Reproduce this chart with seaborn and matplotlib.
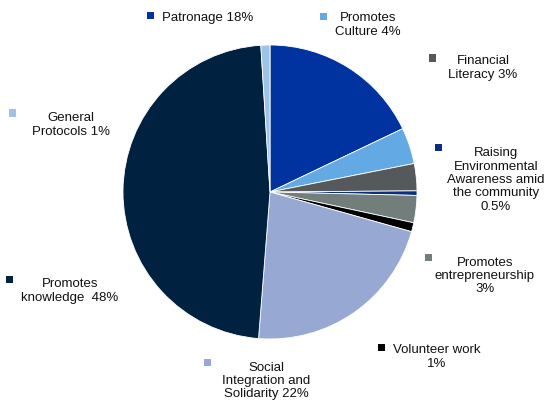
import matplotlib
matplotlib.use("Agg")
import matplotlib.pyplot as plt
from matplotlib.patches import Rectangle
import seaborn as sns

# Share of activities by theme (%), clockwise from 12 o'clock
categories = [
    "Patronage", "Promotes Culture", "Financial Literacy",
    "Raising Environmental Awareness amid the community",
    "Promotes entrepreneurship", "Volunteer work",
    "Social Integration and Solidarity", "Promotes knowledge",
    "General Protocols",
]
shares = [18, 4, 3, 0.5, 3, 1, 22, 48, 1]
colors = ["#0033A0", "#63A9E4", "#55595C", "#0B2F7C", "#717E7C",
          "#000000", "#97A9D2", "#00213F", "#9DC3E6"]
label_texts = [
    "Patronage 18%", "Promotes\nCulture 4%", "Financial\nLiteracy 3%",
    "Raising\nEnvironmental\nAwareness amid\nthe community\n0.5%",
    "Promotes\nentrepreneurship\n3%", "Volunteer work\n1%",
    "Social\nIntegration and\nSolidarity 22%", "Promotes\nknowledge  48%",
    "General\nProtocols 1%",
]

sns.set_style("white")
plt.rcParams["font.family"] = ["Liberation Sans", "DejaVu Sans"]

W, H = 549, 406
fig = plt.figure(figsize=(W / 100, H / 100), dpi=100)

cx, cy, r = 270, 193, 147
ax = fig.add_axes([(cx - r) / W, (H - cy - r) / H, 2 * r / W, 2 * r / H])
ax.pie(shares, colors=colors, startangle=90, counterclock=False,
       wedgeprops=dict(edgecolor="white", linewidth=0.6))
ax.set_aspect("equal")
ax.set_xlim(-1, 1)
ax.set_ylim(-1, 1)
ax.axis("off")

# Label layout in pixels: marker square (x, y) and text centre (x, y)
markers = [(150, 16), (323, 17), (432, 59), (438, 148), (428, 258),
           (381, 348), (207, 363), (9, 280), (12, 114)]
text_pos = [(162, 18), (368, 25), (483, 68), (496, 180), (485, 276),
            (437, 357), (266, 381), (70, 291), (71, 125)]
align = ["left", "center", "center", "center", "center",
         "center", "center", "center", "center"]

sq = 7
for (mx, my), (tx, ty), ha, txt, col in zip(markers, text_pos, align,
                                              label_texts, colors):
    fig.add_artist(Rectangle(((mx - sq / 2) / W, (H - my - sq / 2) / H),
                             sq / W, sq / H, transform=fig.transFigure,
                             facecolor=col, edgecolor="none"))
    fig.text(tx / W, 1 - ty / H, txt, ha=ha, va="center",
             multialignment="center", fontsize=9.5, color="#111111",
             linespacing=1.15)

fig.savefig("out.png", dpi=100, facecolor="white")
